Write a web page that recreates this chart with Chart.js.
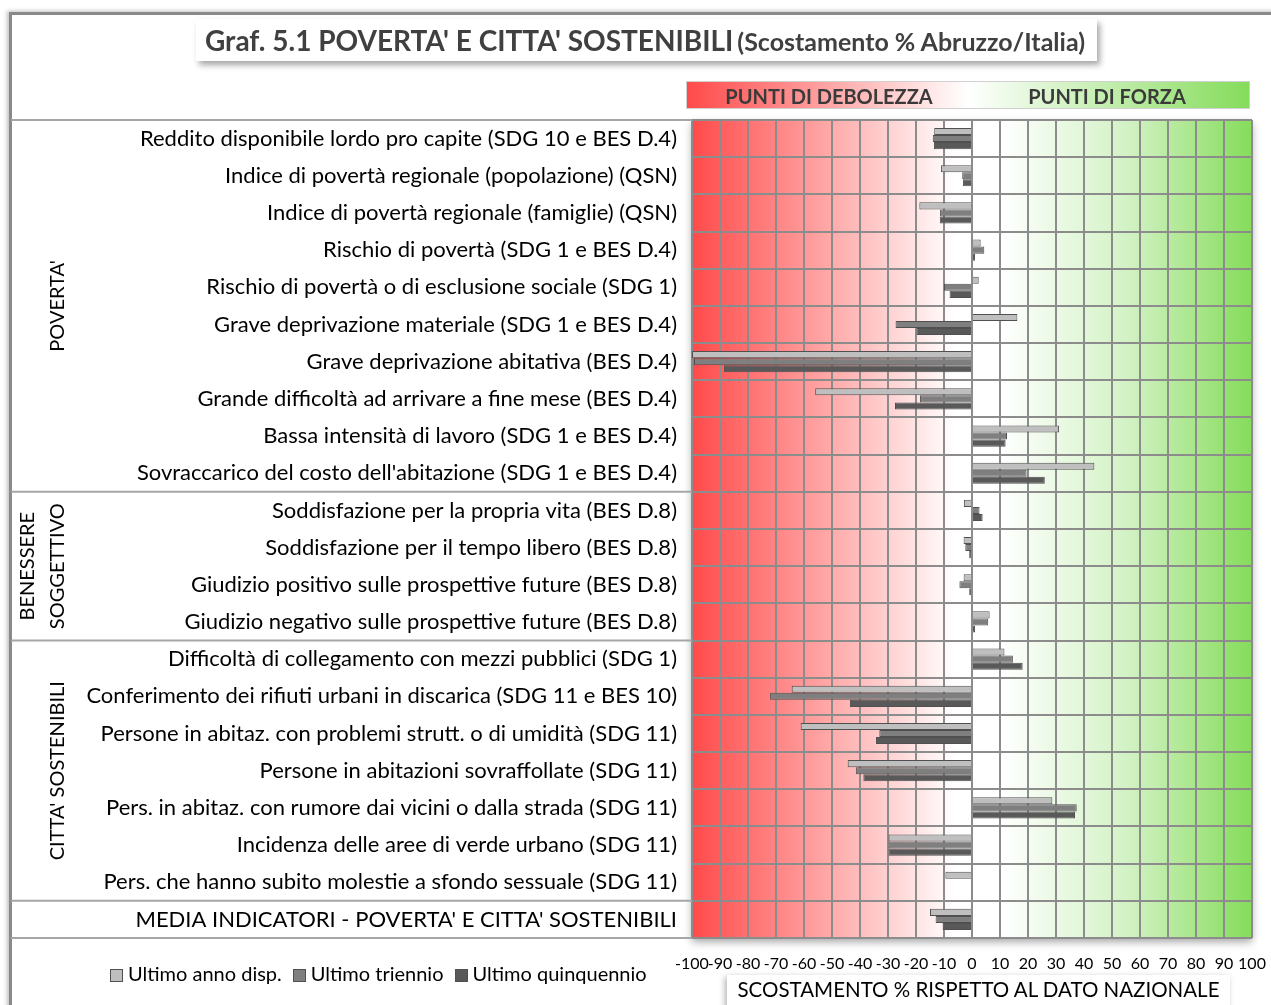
<!DOCTYPE html>
<html>
<head>
<meta charset="utf-8">
<script src="https://cdn.jsdelivr.net/npm/chart.js@4.4.1/dist/chart.umd.min.js"></script>
<style>
    html, body { margin: 0; padding: 0; background: #fff; }
    body { width: 1271px; height: 1005px; position: relative; overflow: hidden; font-family: Lato, "Open Sans", sans-serif; }
    #frame { position: absolute; left: 9px; top: 12px; width: 1270px; height: 1000px; border-top: 3px solid #8a8a8a; border-left: 3px solid #8a8a8a; box-shadow: -2px -1px 4px rgba(0,0,0,0.25); }
    #chart { position: absolute; left: 0; top: 0; }
    .title-box { position: absolute; left: 196px; top: 19px; width: 901px; height: 42px; background: #fff; box-shadow: 3px 4px 6px rgba(0,0,0,0.35); color: #404040; font-weight: bold; white-space: nowrap; line-height: 42px; }
    .title-box .main { font-size: 28px; margin-left: 9px; }
    .title-box .sub { font-size: 25px; }
    .band { position: absolute; left: 686px; top: 81px; width: 562px; height: 26px; border: 1px solid #d0d0d0; background: linear-gradient(to right, #ff4a4a 0%, #ffffff 50%, #85dc5b 100%); color: #3a3a3a; font-weight: bold; font-size: 20px; line-height: 28px; }
    .band span { position: absolute; top: 0; transform: translateX(-50%); white-space: nowrap; }
    .axis-title { position: absolute; left: 727px; top: 975px; width: 503px; height: 34px; background: #fff; box-shadow: -2px 2px 6px rgba(0,0,0,0.3); font-size: 20.5px; line-height: 28px; text-align: center; color: #000; white-space: nowrap; }
    #legend { position: absolute; left: 110px; top: 961px; font-size: 20px; color: #000; white-space: nowrap; }
    #legend .item { display: inline-block; margin-right: 11px; }
    #legend .sw { display: inline-block; width: 11px; height: 11px; border: 1px solid #505050; margin-right: 5px; vertical-align: -1px; }
</style>
</head>
<body>
<div id="frame"></div>
<canvas id="chart" width="1271" height="1005"></canvas>
<div class="title-box"><span class="main">Graf. 5.1 POVERTA' E CITTA' SOSTENIBILI</span> <span class="sub">(Scostamento % Abruzzo/Italia)</span></div>
<div class="band"><span style="left:142px">PUNTI DI DEBOLEZZA</span><span style="left:420px">PUNTI DI FORZA</span></div>
<div id="legend"></div>
<div class="axis-title">SCOSTAMENTO % RISPETTO AL DATO NAZIONALE</div>
<script>
const categories = [
    'Reddito disponibile lordo pro capite (SDG 10 e BES D.4)',
    'Indice di povertà regionale (popolazione) (QSN)',
    'Indice di povertà regionale (famiglie) (QSN)',
    'Rischio di povertà (SDG 1 e BES D.4)',
    'Rischio di povertà o di esclusione sociale (SDG 1)',
    'Grave deprivazione materiale (SDG 1 e BES D.4)',
    'Grave deprivazione abitativa (BES D.4)',
    'Grande difficoltà ad arrivare a fine mese (BES D.4)',
    'Bassa intensità di lavoro (SDG 1 e BES D.4)',
    "Sovraccarico del costo dell'abitazione (SDG 1 e BES D.4)",
    'Soddisfazione per la propria vita (BES D.8)',
    'Soddisfazione per il tempo libero (BES D.8)',
    'Giudizio positivo sulle prospettive future (BES D.8)',
    'Giudizio negativo sulle prospettive future (BES D.8)',
    'Difficoltà di collegamento con mezzi pubblici (SDG 1)',
    'Conferimento dei rifiuti urbani in discarica (SDG 11 e BES 10)',
    'Persone in abitaz. con problemi strutt. o di umidità (SDG 11)',
    'Persone in abitazioni sovraffollate (SDG 11)',
    'Pers. in abitaz. con rumore dai vicini o dalla strada (SDG 11)',
    'Incidenza delle aree di verde urbano (SDG 11)',
    'Pers. che hanno subito molestie a sfondo sessuale (SDG 11)',
    "MEDIA INDICATORI - POVERTA' E CITTA' SOSTENIBILI"
];

const seriesNames = ['Ultimo anno disp.', 'Ultimo triennio', 'Ultimo quinquennio'];
const seriesColors = ['#bfbfbf', '#7f7f7f', '#595959'];

const ultimoAnno = [-13.5, -11.1, -18.8, 3.1, 2.4, 16.2, -100, -56, 31.1, 43.7,
    -2.9, -3.0, -3.0, 6.3,
    11.6, -64.4, -61.2, -44.4, 28.7, -29.8, -9.5,
    -15];
const ultimoTriennio = [-14, -3.5, -11.4, 4.4, -10, -27.3, -99.3, -18.6, 12.5, 19.5,
    2.7, -2.4, -4.5, 5.8,
    14.6, -72.1, -33.1, -41.5, 37.4, -29.8, null,
    -13];
const ultimoQuinquennio = [-13.6, -3.2, -11.5, 1.1, -8.0, -19.8, -88.6, -27.5, 12.0, 26.0,
    3.8, -1.0, -1.0, 1.1,
    18.1, -43.6, -34.3, -38.8, 36.8, -29.8, null,
    -10.5];

const xTickValues = [-100, -90, -80, -70, -60, -50, -40, -30, -20, -10, 0, 10, 20, 30, 40, 50, 60, 70, 80, 90, 100];

// groups: label lines, first and last category index
const groups = [
    { lines: ["POVERTA'"], from: 0, to: 9 },
    { lines: ['BENESSERE', 'SOGGETTIVO'], from: 10, to: 13 },
    { lines: ["CITTA' SOSTENIBILI"], from: 14, to: 20 },
    { lines: [], from: 21, to: 21 }
];

const legendBox = document.getElementById('legend');
seriesNames.forEach((name, i) => {
    legendBox.innerHTML += `<span class="item"><span class="sw" style="background:${seriesColors[i]}"></span>${name}</span>`;
});

const backgroundPlugin = {
    id: 'redGreenBackground',
    beforeDraw(chart) {
        const { ctx, chartArea: a, scales } = chart;
        const x0 = scales.x.getPixelForValue(-100);
        const x1 = scales.x.getPixelForValue(100);
        const g = ctx.createLinearGradient(x0, 0, x1, 0);
        g.addColorStop(0, '#ff4a4a');
        g.addColorStop(0.47, '#ffffff');
        g.addColorStop(0.55, '#ffffff');
        g.addColorStop(0.78, '#d2f2c4');
        g.addColorStop(1, '#85dc5b');
        ctx.save();
        ctx.shadowColor = 'rgba(0,0,0,0.35)';
        ctx.shadowBlur = 8;
        ctx.shadowOffsetX = 0;
        ctx.shadowOffsetY = 4;
        ctx.fillStyle = g;
        ctx.fillRect(a.left, a.top, a.right - a.left, a.bottom - a.top);
        ctx.restore();
    },
    afterDraw(chart) {
        const { ctx, chartArea: a, scales } = chart;
        const y = scales.y;
        const half = (y.getPixelForValue(1) - y.getPixelForValue(0)) / 2;
        ctx.save();
        ctx.strokeStyle = '#a6a6a6';
        ctx.lineWidth = 2;
        const edges = [y.getPixelForValue(0) - half];
        groups.forEach(gr => edges.push(y.getPixelForValue(gr.to) + half));
        edges.forEach(py => {
            ctx.beginPath();
            ctx.moveTo(11, py);
            ctx.lineTo(a.left, py);
            ctx.stroke();
        });
        ctx.fillStyle = '#000';
        ctx.font = '20px Lato, "Open Sans", sans-serif';
        ctx.textAlign = 'center';
        ctx.textBaseline = 'middle';
        groups.forEach(gr => {
            if (!gr.lines.length) return;
            const cy = (y.getPixelForValue(gr.from) + y.getPixelForValue(gr.to)) / 2;
            gr.lines.forEach((line, k) => {
                const cx = 58 - (gr.lines.length - 1 - k) * 30;
                ctx.save();
                ctx.translate(cx, cy);
                ctx.rotate(-Math.PI / 2);
                ctx.fillText(line, 0, 0);
                ctx.restore();
            });
        });
        ctx.restore();
    }
};

new Chart(document.getElementById('chart'), {
    type: 'bar',
    data: {
        labels: categories,
        datasets: [ultimoAnno, ultimoTriennio, ultimoQuinquennio].map((values, i) => ({
            label: seriesNames[i],
            data: values,
            backgroundColor: seriesColors[i],
            borderColor: '#505050',
            borderWidth: 1,
            barPercentage: 1,
            categoryPercentage: 0.57
        }))
    },
    options: {
        indexAxis: 'y',
        responsive: false,
        animation: false,
        layout: { padding: { top: 120, right: 19, left: 0, bottom: 0 } },
        plugins: {
            legend: { display: false },
            tooltip: { enabled: false }
        },
        scales: {
            x: {
                type: 'linear',
                min: -100,
                max: 100,
                grid: { color: '#8c8c8c', lineWidth: 2, drawTicks: false },
                border: { display: false },
                afterBuildTicks: scale => { scale.ticks = xTickValues.map(v => ({ value: v })); },
                afterFit: scale => {
                    scale.height = 67;
                    scale.paddingLeft = 0;
                    scale.paddingRight = 0;
                },
                ticks: {
                    autoSkip: false,
                    maxRotation: 0,
                    padding: 16,
                    color: '#000',
                    font: { family: 'Lato, "Open Sans", sans-serif', size: 16 }
                }
            },
            y: {
                grid: { offset: true, color: '#8c8c8c', lineWidth: 2, drawTicks: false },
                border: { display: false },
                afterFit: scale => { scale.width = 692; },
                ticks: {
                    autoSkip: false,
                    padding: 15,
                    color: '#000',
                    font: { family: 'Lato, "Open Sans", sans-serif', size: 22 }
                }
            }
        }
    },
    plugins: [backgroundPlugin]
});
</script>
</body>
</html>
